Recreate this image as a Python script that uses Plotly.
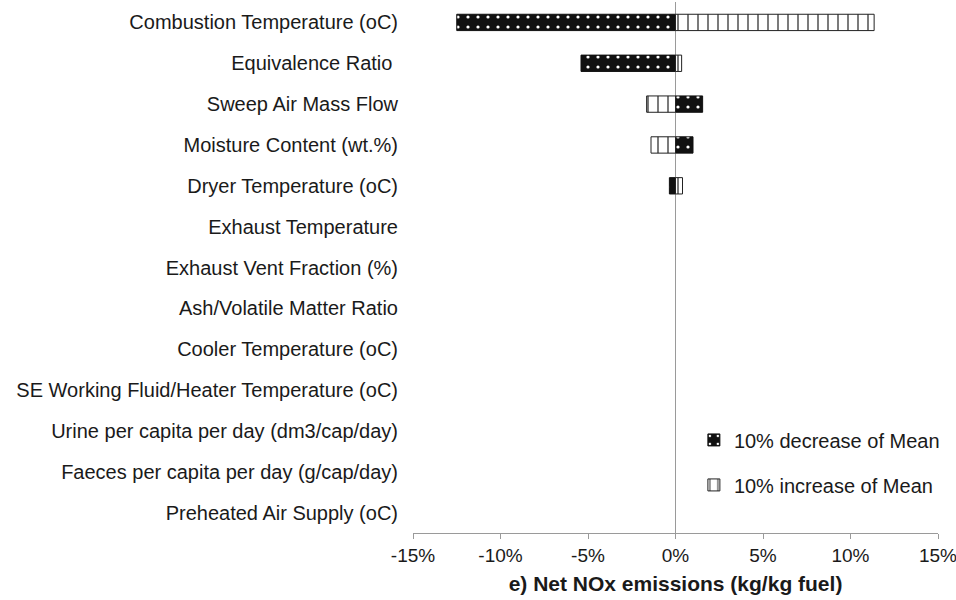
import plotly.graph_objects as go

# Sensitivity parameters, top to bottom
categories = [
    "Combustion Temperature (oC)",
    "Equivalence Ratio ",
    "Sweep Air Mass Flow",
    "Moisture Content (wt.%)",
    "Dryer Temperature (oC)",
    "Exhaust Temperature",
    "Exhaust Vent Fraction (%)",
    "Ash/Volatile Matter Ratio",
    "Cooler Temperature (oC)",
    "SE Working Fluid/Heater Temperature (oC)",
    "Urine per capita per day (dm3/cap/day)",
    "Faeces per capita per day (g/cap/day)",
    "Preheated Air Supply (oC)",
]

# Change in net NOx emissions (fraction) for each perturbation
decrease_vals = [-0.125, -0.054, 0.0155, 0.010, -0.0035, 0, 0, 0, 0, 0, 0, 0, 0]
increase_vals = [0.1135, 0.0035, -0.0165, -0.014, 0.004, 0, 0, 0, 0, 0, 0, 0, 0]

x_ticks = [-0.15, -0.10, -0.05, 0.0, 0.05, 0.10, 0.15]
x_tick_labels = ["-15%", "-10%", "-5%", "0%", "5%", "10%", "15%"]

FONT = "Liberation Sans, Arial, sans-serif"
TEXT = "#1a1a1a"


def outline_widths(vals):
    # no outline on empty bars so the zero line stays clean
    return [1 if v != 0 else 0 for v in vals]


fig = go.Figure()

fig.add_trace(go.Bar(
    y=categories, x=decrease_vals, orientation="h",
    name="10% decrease of Mean", legendgroup="dec",
    width=0.4,
    marker=dict(
        color="#111111",
        line=dict(color="#111111", width=outline_widths(decrease_vals)),
        pattern=dict(shape=".", fgcolor="white", bgcolor="#111111",
                     size=10, solidity=0.08, fillmode="overlay", fgopacity=1),
    ),
))

fig.add_trace(go.Bar(
    y=categories, x=increase_vals, orientation="h",
    name="10% increase of Mean", legendgroup="inc",
    width=0.4,
    marker=dict(
        color="white",
        line=dict(color="#222222", width=outline_widths(increase_vals)),
        pattern=dict(shape="|", fgcolor="#222222", bgcolor="white",
                     size=10, solidity=0.12, fillmode="overlay", fgopacity=1),
    ),
))

fig.update_layout(
    width=956, height=600,
    margin=dict(l=413, r=18, t=2, b=67),
    paper_bgcolor="white", plot_bgcolor="white",
    barmode="overlay",
    font=dict(family=FONT, size=20, color=TEXT),
    showlegend=True,
    legend=dict(
        x=0.535, y=0.212, xanchor="left", yanchor="top",
        traceorder="grouped", tracegroupgap=16,
        font=dict(family=FONT, size=20, color=TEXT),
        bgcolor="rgba(0,0,0,0)",
    ),
    xaxis=dict(
        range=[-0.15, 0.15],
        tickvals=x_ticks, ticktext=x_tick_labels,
        ticklabeloverflow="allow",
        automargin=False,
        showgrid=False,
        zeroline=True, zerolinecolor="#9a9a9a", zerolinewidth=1,
        showline=True, linecolor="#9a9a9a", linewidth=1,
        ticks="outside", ticklen=5, tickcolor="#9a9a9a",
        tickfont=dict(family=FONT, size=19, color=TEXT),
        title=dict(text="<b>e) Net NOx emissions (kg/kg fuel)</b>",
                   font=dict(family=FONT, size=21, color=TEXT), standoff=11),
    ),
    yaxis=dict(
        categoryorder="array", categoryarray=categories,
        autorange="reversed",
        showgrid=False, zeroline=False, showline=False,
        ticks="", ticklabelstandoff=14,
        tickfont=dict(family=FONT, size=20, color=TEXT),
    ),
)

fig.write_html("out.html")
